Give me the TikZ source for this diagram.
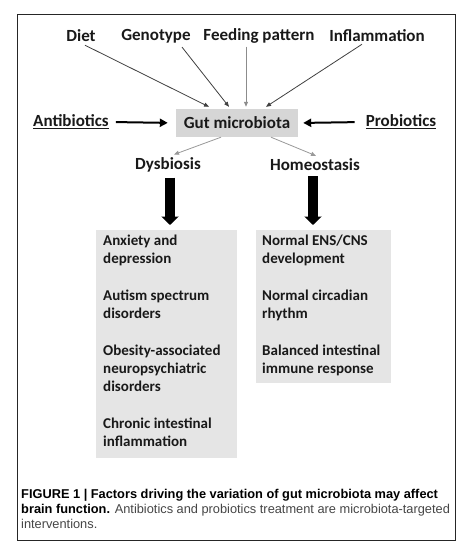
\documentclass[tikz,border=0pt]{standalone}
\usepackage{fontspec}
\setmainfont{Carlito}
\newfontfamily\capfont{Liberation Sans}
\usetikzlibrary{arrows.meta}
\definecolor{gutgray}{RGB}{214,214,214}
\definecolor{boxgray}{RGB}{229,229,229}
\definecolor{txt}{RGB}{25,25,25}
\definecolor{capgray}{RGB}{70,70,70}
\tikzset{
  lab/.style={font=\fontsize{17}{20}\selectfont\bfseries, text=txt, inner sep=2pt},
  thin arrow/.style={draw=black!75, line width=0.8pt, -{Triangle[length=5pt,width=4pt]}},
  pale arrow/.style={draw=black!45, line width=0.8pt, -{Triangle[length=5pt,width=4pt]}},
  bold arrow/.style={draw=black, line width=2pt, -{Triangle[length=8pt,width=8pt]}},
  fat arrow/.style={draw=black, line width=9.5pt, -{Triangle[length=8.5pt,width=17pt]}},
  listbox/.style={fill=boxgray, draw=none, anchor=north west, inner sep=0pt},
  listtext/.style={font=\fontsize{15}{18.3}\selectfont\bfseries, text=txt, anchor=north west, inner sep=0pt, align=left}
}
\begin{document}
\begin{tikzpicture}[x=1pt,y=-1pt]
\useasboundingbox (0,0) rectangle (466,549);
\fill[white] (0,0) rectangle (466,549);
\draw[black!85, line width=1pt] (17,14) rectangle (455,540);

% top factors
\node[lab] (diet) at (81,36) {Diet};
\node[lab] (geno) at (156,36) {Genotype};
\node[lab] (feed) at (259,36) {Feeding pattern};
\node[lab] (infl) at (377,36) {Inflammation};

% central box
\node[lab, fill=gutgray, minimum width=122pt, minimum height=28pt, inner sep=0pt] (gut) at (237,123) {Gut microbiota};
\node[lab] (anti) at (71,122) {\underline{Antibiotics}};
\node[lab] (pro) at (401,122) {\underline{Probiotics}};

\node[lab] (dys) at (168,165) {Dysbiosis};
\node[lab] (homeo) at (315,165) {Homeostasis};

% arrows into gut microbiota
\draw[thin arrow] ([xshift=4pt,yshift=-1pt]diet.south) -- ([xshift=-28pt,yshift=2pt]gut.north);
\draw[thin arrow] ([xshift=26pt,yshift=-2pt]geno.south) -- ([xshift=-8pt,yshift=2pt]gut.north);
\draw[pale arrow] ([xshift=-13pt,yshift=-1pt]feed.south) -- ([xshift=9pt,yshift=2pt]gut.north);
\draw[thin arrow] ([xshift=-15pt,yshift=0pt]infl.south) -- ([xshift=29pt,yshift=2pt]gut.north);

\draw[bold arrow, shorten <=5pt, shorten >=8pt] (anti.east) -- (gut.west);
\draw[bold arrow, shorten <=9pt, shorten >=5pt] (pro.west) -- (gut.east);

% arrows out of gut microbiota
\draw[pale arrow, draw=black!40] ([xshift=-16pt]gut.south) -- ([xshift=6pt,yshift=1pt]dys.north);
\draw[pale arrow, draw=black!40] ([xshift=34pt]gut.south) -- ([xshift=1pt,yshift=1pt]homeo.north);

% lower boxes
\node[listbox, minimum width=141pt, minimum height=228pt] (lbox) at (96,230) {};
\node[listbox, minimum width=135pt, minimum height=153pt] (rbox) at (256,230) {};

\draw[fat arrow, shorten <=3pt, shorten >=5pt] ([xshift=2pt]dys.south) -- ([xshift=2pt]dys.south |- lbox.north);
\draw[fat arrow, shorten <=3pt, shorten >=5pt] ([xshift=-2pt]homeo.south) -- ([xshift=-2pt]homeo.south |- rbox.north);

\node[listtext] (ltext) at ([xshift=7pt,yshift=-4.5pt]lbox.north west) {Anxiety and\\depression\\[18.3pt]Autism spectrum\\disorders\\[18.3pt]Obesity-associated\\neuropsychiatric\\disorders\\[18.3pt]Chronic intestinal\\inflammation};
\node[listtext] (rtext) at ([xshift=6pt,yshift=-4.5pt]rbox.north west) {Normal ENS/CNS\\development\\[18.3pt]Normal circadian\\rhythm\\[18.3pt]Balanced intestinal\\immune response};

% caption
\node[anchor=north west, inner sep=0pt, align=left, font=\capfont\fontsize{12.8}{15}\selectfont] (cap) at (21,489)
{\textbf{FIGURE 1 | Factors driving the variation of gut microbiota may affect}\\
\textbf{brain function.} \textcolor{capgray}{Antibiotics and probiotics treatment are microbiota-targeted}\\
\textcolor{capgray}{interventions.}};
\end{tikzpicture}
\end{document}
